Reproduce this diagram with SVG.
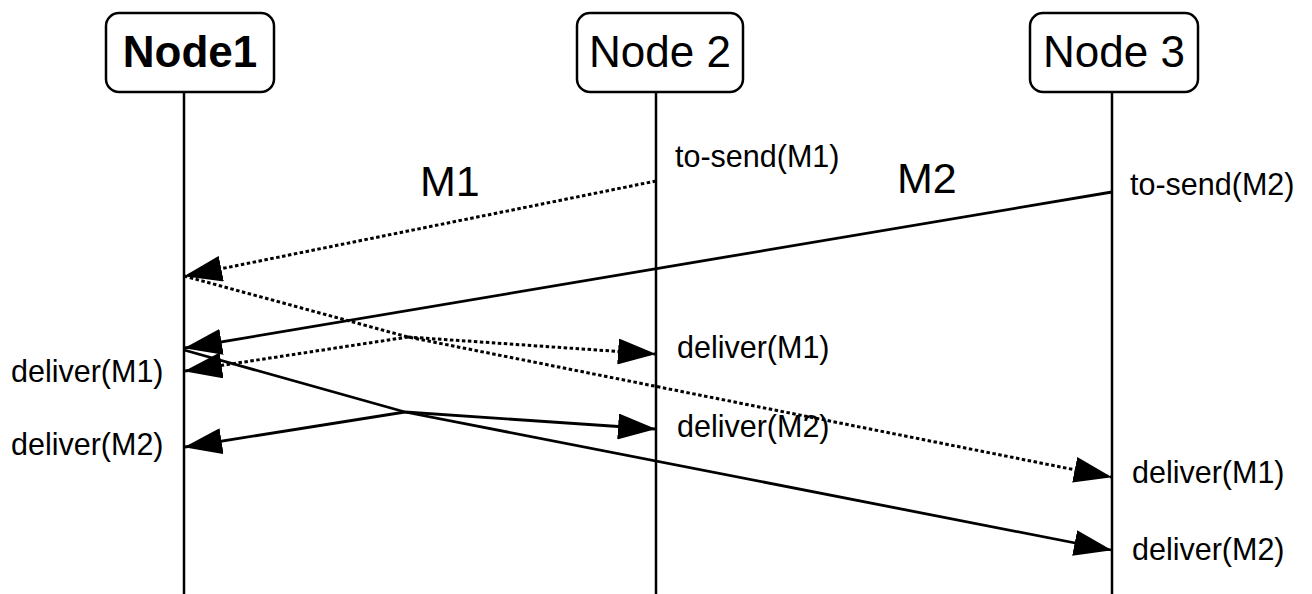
<svg xmlns="http://www.w3.org/2000/svg" width="1312" height="594" viewBox="0 0 1312 594">
<style>
.box{fill:#fff;stroke:#000;stroke-width:2.5}
.life{stroke:#000;stroke-width:2.5;fill:none}
.msg{stroke:#000;stroke-width:2.8;fill:none}
.dot{stroke:#000;stroke-width:3;fill:none;stroke-dasharray:3.5 2.5}
.nt{font-family:"Liberation Sans",Arial,sans-serif;font-size:44px;text-anchor:middle;fill:#000}
.lb{font-family:"Liberation Sans",Arial,sans-serif;font-size:30.5px;fill:#000}
.big{font-family:"Liberation Sans",Arial,sans-serif;font-size:43px;fill:#000}
</style>
<defs>
<marker id="ah" viewBox="0 0 38 26" refX="37" refY="13" markerWidth="38" markerHeight="26" markerUnits="userSpaceOnUse" orient="auto">
<path d="M0,0 L38,13 L0,26 Z" fill="#000"/>
</marker>
</defs>
<g id="node1">
<line class="life" x1="184" y1="92" x2="184" y2="594"/>
<rect class="box" x="106" y="13" width="168" height="79" rx="13"/>
<text class="nt" x="190" y="67" font-weight="bold">Node1</text>
</g>
<g id="node2">
<line class="life" x1="656" y1="92" x2="656" y2="594"/>
<rect class="box" x="577" y="13" width="166" height="79" rx="13"/>
<text class="nt" x="660" y="67">Node 2</text>
</g>
<g id="node3">
<line class="life" x1="1112" y1="92" x2="1112" y2="594"/>
<rect class="box" x="1030" y="13" width="168" height="79" rx="13"/>
<text class="nt" x="1114" y="67">Node 3</text>
</g>
<g id="connectors">
<line class="dot" x1="656" y1="181" x2="185" y2="276" marker-end="url(#ah)"/>
<polyline class="dot" points="184,276 408,337 1111,477" marker-end="url(#ah)"/>
<line class="dot" x1="408" y1="337" x2="655" y2="354" marker-end="url(#ah)"/>
<line class="dot" x1="408" y1="337" x2="185" y2="371" marker-end="url(#ah)"/>
<line class="msg" x1="1112" y1="192" x2="185" y2="348" marker-end="url(#ah)"/>
<polyline class="msg" points="184,350 405,412 1111,550" marker-end="url(#ah)"/>
<line class="msg" x1="405" y1="412" x2="655" y2="429" marker-end="url(#ah)"/>
<line class="msg" x1="405" y1="412" x2="185" y2="447" marker-end="url(#ah)"/>
</g>
<g id="labels">
<text class="big" x="420" y="196">M1</text>
<text class="big" x="897" y="193">M2</text>
<text class="lb" x="675" y="167">to-send(M1)</text>
<text class="lb" x="1130" y="195">to-send(M2)</text>
<text class="lb" x="11" y="382">deliver(M1)</text>
<text class="lb" x="11" y="455">deliver(M2)</text>
<text class="lb" x="677" y="358">deliver(M1)</text>
<text class="lb" x="677" y="437">deliver(M2)</text>
<text class="lb" x="1132" y="483">deliver(M1)</text>
<text class="lb" x="1132" y="560">deliver(M2)</text>
</g>
</svg>
